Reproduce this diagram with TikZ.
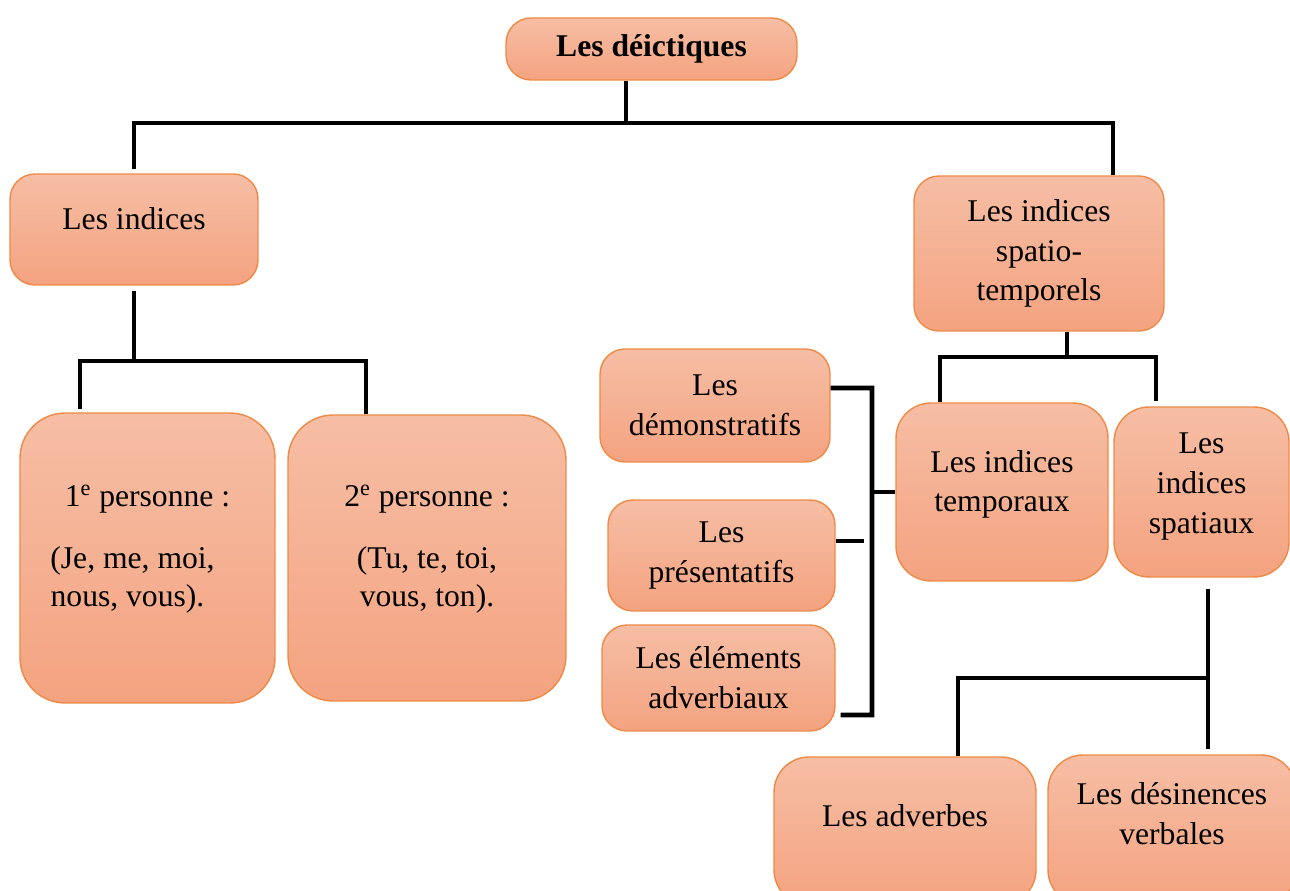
\documentclass[tikz,border=0pt]{standalone}
\usepackage{fontspec}
\setmainfont{Liberation Serif}
\definecolor{boxtop}{HTML}{F6BEA5}
\definecolor{boxbot}{HTML}{F4A380}
\definecolor{boxline}{HTML}{EE8A45}
\tikzset{
	box/.style={draw=boxline, line width=0.8pt, top color=boxtop, bottom color=boxbot,
		rounded corners=0.5cm, align=flush center, inner sep=0.1cm, font=\fontsize{18}{22.6}\selectfont},
	link/.style={line width=2.8pt, black}
}

\begin{document}
\begin{tikzpicture}[x=0.02cm, y=-0.02cm]
	\path[use as bounding box, clip] (0,0) rectangle (1290,891);
	
	\node[box, minimum width=5.82cm, minimum height=1.24cm, font=\fontsize{18}{22}\selectfont\bfseries] (root) at (651.5,49) {Les déictiques};
	
	\node[box, text width=4.76cm, minimum height=2.22cm] (indices) at (134,229.5) {Les indices\par\vspace{0.44cm}\hrule height0pt width0pt};
	\node[box, text width=4.9cm, minimum height=5.8cm, rounded corners=0.9cm, font=\fontsize{18}{21.5}\selectfont] (p1) at (147.5,558) {1\textsuperscript{e} personne :\\[14pt](Je, me, moi,\rule{0.6cm}{0pt}\\nous, vous).\hspace*{0.8cm}\par\vspace{0.36cm}\hrule height0pt width0pt};
	\node[box, text width=5.36cm, minimum height=5.72cm, rounded corners=0.9cm, font=\fontsize{18}{21.5}\selectfont] (p2) at (427,558) {2\textsuperscript{e} personne :\\[14pt](Tu, te, toi,\\vous, ton).\par\vspace{0.36cm}\hrule height0pt width0pt};
	
	\node[box, text width=4.8cm, minimum height=3.1cm] (spt) at (1039,253.5) {Les indices\\spatio-\\temporels};
	\node[box, text width=4.4cm, minimum height=2.26cm] (demo) at (715,405.5) {Les\\démonstratifs};
	\node[box, text width=4.34cm, minimum height=2.22cm] (pres) at (721.5,555.5) {Les\\présentatifs};
	\node[box, text width=4.46cm, minimum height=2.12cm] (elem) at (718.5,678) {Les éléments\\adverbiaux};
	\node[box, text width=4.04cm, minimum height=3.56cm, rounded corners=0.7cm] (temp) at (1002,492) {Les indices\\temporaux\par\vspace{0.3cm}\hrule height0pt width0pt};
	\node[box, text width=3.3cm, minimum height=3.4cm, rounded corners=0.7cm] (spat) at (1201.5,492) {Les\\indices\\spatiaux\par\vspace{0.22cm}\hrule height0pt width0pt};
	\node[box, text width=5.04cm, minimum height=2.96cm, rounded corners=0.7cm] (adv) at (905,831) {Les adverbes\par\vspace{0.6cm}\hrule height0pt width0pt};
	\node[box, text width=4.76cm, minimum height=3cm, rounded corners=0.7cm] (des) at (1172,830) {Les désinences\\verbales\par\vspace{0.64cm}\hrule height0pt width0pt};
	
	% top level
	\coordinate (top bar) at (626,123);
	\draw[link] (root.south -| top bar) -- (top bar);
	\draw[link, shorten <=0.08cm] (indices.north) |- (top bar) -| ([xshift=1.48cm]spt.north);
	
	% indices
	\coordinate (ind bar) at (134,361);
	\draw[link, shorten <=0.1cm] (indices.south) -- (ind bar);
	\draw[link, shorten <=0.06cm] ([xshift=-1.35cm]p1.north) |- (ind bar) -| ([xshift=-1.22cm]p2.north);
	
	% spatio-temporels
	\coordinate (spt bar) at (1067,357);
	\draw[link] (spt.south -| spt bar) -- (spt bar);
	\draw[link, shorten >=0.1cm] ([xshift=-1.24cm]temp.north) |- (spt bar) -| ([xshift=-0.91cm]spat.north);
	
	% bracket
	\coordinate (brk) at (872,492);
	\coordinate (brk bot) at (872,715);
	\coordinate (pres end) at (864,541);
	\draw[link] ([yshift=0.35cm]demo.east) -| (brk bot) -- ([xshift=0.1cm,yshift=-0.74cm]elem.east);
	\draw[link] (brk) -- (temp.west);
	\draw[link] (pres.east |- pres end) -- (pres end);
	
	% spatiaux
	\coordinate (spat bar) at (1208,678);
	\draw[link, shorten <=0.22cm, shorten >=0.1cm] (spat.south -| spat bar) -- (des.north -| spat bar);
	\draw[link] (spat bar) -| ([xshift=1.06cm]adv.north);
\end{tikzpicture}
\end{document}
